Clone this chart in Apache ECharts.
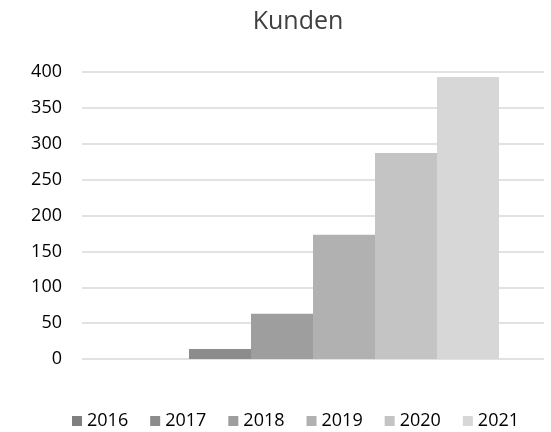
<!DOCTYPE html>
<html>
<head>
<meta charset="utf-8">
<script src="https://cdn.jsdelivr.net/npm/echarts@6/dist/echarts.min.js"></script>
<style>
  html, body { margin: 0; padding: 0; background: #fff; }
  #chart { width: 551px; height: 432px; }
</style>
</head>
<body>
<div id="chart"></div>
<script>
// data
var years = ['2016', '2017', '2018', '2019', '2020', '2021']
var kunden = [0, 14, 63, 173, 287, 393]
var yTicks = { min: 0, max: 400, step: 50 }
var greys = ['#7f7f7f', '#8c8c8c', '#9e9e9e', '#b1b1b1', '#c4c4c4', '#d7d7d7']

var font = 'Open Sans'

var chart = echarts.init(document.getElementById('chart'))

var series = years.map(function (y, i) {
  return {
    name: y,
    type: 'bar',
    barWidth: 62,
    barGap: '0%',
    itemStyle: { color: greys[i] },
    data: [kunden[i]]
  }
})

chart.setOption({
  animation: false,
  title: {
    text: 'Kunden',
    left: 293,
    textAlign: 'center',
    top: 4,
    textStyle: { fontFamily: font, fontSize: 25, fontWeight: 'normal', color: '#404040' }
  },
  legend: {
    data: years,
    left: 72,
    top: 412,
    padding: 0,
    icon: 'rect',
    itemWidth: 10,
    itemHeight: 10,
    itemGap: 22,
    textStyle: { fontFamily: font, fontSize: 18, color: '#000' }
  },
  grid: {
    left: 82,
    right: 7,
    top: 72,
    bottom: 73
  },
  xAxis: {
    type: 'category',
    data: [''],
    axisLine: { show: false },
    axisTick: { show: false },
    axisLabel: { show: false }
  },
  yAxis: {
    type: 'value',
    min: yTicks.min,
    max: yTicks.max,
    interval: yTicks.step,
    axisLine: { show: false },
    axisTick: { show: false },
    axisLabel: { margin: 20, fontFamily: font, fontSize: 18, color: '#000' },
    splitLine: { lineStyle: { color: '#d9d9d9', width: 1.5 } }
  },
  series: series
})
</script>
</body>
</html>
